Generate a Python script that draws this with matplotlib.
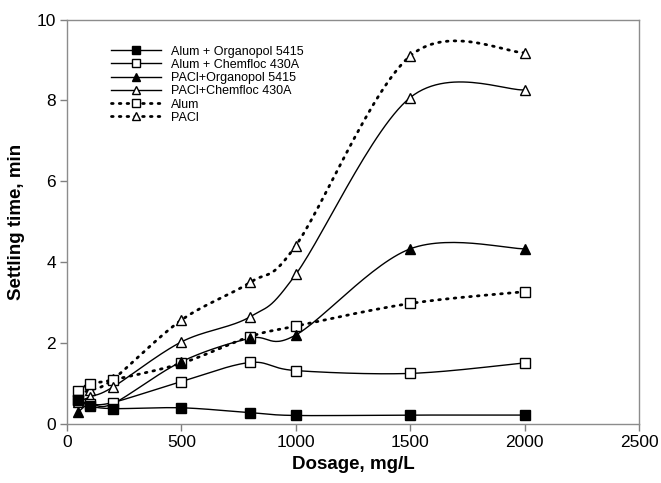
import numpy as np
import matplotlib
matplotlib.use("Agg")
import matplotlib.pyplot as plt
from matplotlib.lines import Line2D

plt.rcParams['font.family'] = ['Liberation Sans', 'DejaVu Sans']

dosage = [50, 100, 200, 500, 800, 1000, 1500, 2000]

alum_organopol = [0.59, 0.45, 0.38, 0.40, 0.28, 0.21, 0.22, 0.22]
alum_chemfloc = [0.60, 0.50, 0.53, 1.05, 1.52, 1.32, 1.25, 1.51]
pacl_organopol = [0.30, 0.50, 0.50, 1.54, 2.12, 2.20, 4.33, 4.33]
pacl_chemfloc = [0.55, 0.67, 0.91, 2.03, 2.65, 3.70, 8.07, 8.26]
alum_only = [0.82, 0.99, 1.09, 1.50, 2.16, 2.42, 2.98, 3.27]
pacl_only = [0.75, 0.84, 1.10, 2.57, 3.50, 4.41, 9.10, 9.18]

series_names = ["Alum + Organopol 5415", "Alum + Chemfloc 430A",
                "PACl+Organopol 5415", "PACl+Chemfloc 430A", "Alum", "PACl"]


def smooth(x, y, n=30):
    """Parametric Catmull-Rom curve through the points (spreadsheet-style smoothing)."""
    p = np.column_stack([x, y]).astype(float)
    pts = np.vstack([p[0], p, p[-1]])
    out = []
    t = np.linspace(0, 1, n)
    for i in range(1, len(pts) - 2):
        p0, p1, p2, p3 = pts[i - 1], pts[i], pts[i + 1], pts[i + 2]
        c1 = p1 + (p2 - p0) / 6.0
        c2 = p2 - (p3 - p1) / 6.0
        tt = t[:, None]
        seg = ((1 - tt) ** 3 * p1 + 3 * (1 - tt) ** 2 * tt * c1
               + 3 * (1 - tt) * tt ** 2 * c2 + tt ** 3 * p2)
        out.append(seg if i == 1 else seg[1:])
    s = np.vstack(out)
    return s[:, 0], s[:, 1]


fig = plt.figure(figsize=(6.61, 4.83), dpi=100)
ax = fig.add_axes([0.1014, 0.1222, 0.8653, 0.8374])

styles = [
    (alum_organopol, 's', 'black', '-'),
    (alum_chemfloc, 's', 'white', '-'),
    (pacl_organopol, '^', 'black', '-'),
    (pacl_chemfloc, '^', 'white', '-'),
    (alum_only, 's', 'white', ':'),
    (pacl_only, '^', 'white', ':'),
]
dot_style = (0, (0.6, 2.2))

handles = []
n_series = len(styles)
for k, ((vals, mk, fc, ls), name) in enumerate(zip(styles, series_names)):
    sx, sy = smooth(dosage, vals)
    if ls == ':':
        ax.plot(sx, sy, color='black', lw=2.0, linestyle=dot_style,
                dash_capstyle='round', zorder=2)
    else:
        ax.plot(sx, sy, color='black', lw=1.0, zorder=2)
    # earlier series sit on top of later ones
    ax.plot(dosage, vals, linestyle='none', marker=mk, markersize=6.5,
            markerfacecolor=fc, markeredgecolor='black', markeredgewidth=1.0,
            zorder=3 + (n_series - k) * 0.1)
    if ls == ':':
        h = Line2D([], [], color='black', lw=2.0, linestyle=dot_style,
                   dash_capstyle='round', marker=mk, markersize=5.5,
                   markerfacecolor=fc, markeredgecolor='black', markeredgewidth=1.0)
    else:
        h = Line2D([], [], color='black', lw=1.0, marker=mk, markersize=5.5,
                   markerfacecolor=fc, markeredgecolor='black', markeredgewidth=1.0)
    handles.append(h)

ax.set_xlim(0, 2500)
ax.set_ylim(0, 10)
ax.set_xticks([0, 500, 1000, 1500, 2000, 2500])
ax.set_yticks([0, 2, 4, 6, 8, 10])
ax.tick_params(axis='both', labelsize=12.5, color='#808080', length=5,
               width=1.0, direction='out', pad=3)
for sp in ax.spines.values():
    sp.set_color('#8c8c8c')
    sp.set_linewidth(1.0)

ax.set_xlabel("Dosage, mg/L", fontsize=13.5, fontweight='bold', labelpad=4)
ax.set_ylabel("Settling time, min", fontsize=13.5, fontweight='bold', labelpad=8)

leg = ax.legend(handles, series_names, loc='upper left',
                bbox_to_anchor=(0.069, 0.948), frameon=False, fontsize=9.0,
                handlelength=4.0, handletextpad=0.75, labelspacing=0.1,
                borderaxespad=0)

fig.savefig("out.png", dpi=100)
